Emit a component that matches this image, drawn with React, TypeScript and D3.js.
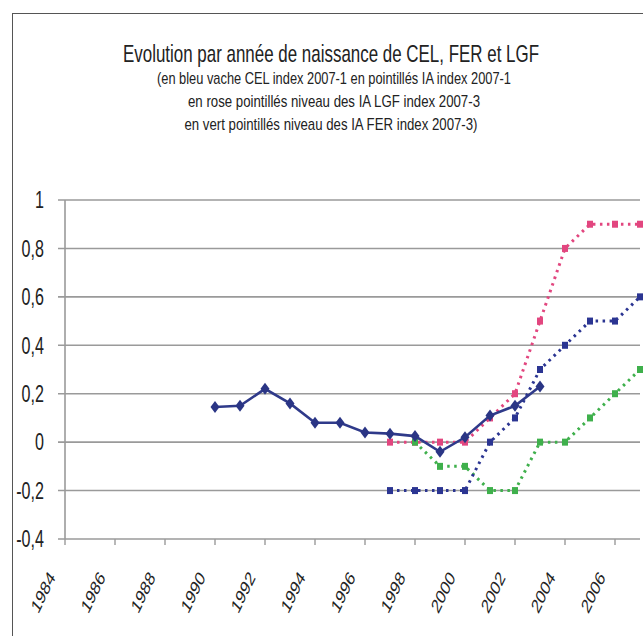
import React from "react";
import * as d3 from "d3";

const tickYears = [1984, 1986, 1988, 1990, 1992, 1994, 1996, 1998, 2000, 2002, 2004, 2006];
const yTicks = [1, 0.8, 0.6, 0.4, 0.2, 0, -0.2, -0.4];

const celYears = [1990, 1991, 1992, 1993, 1994, 1995, 1996, 1997, 1998, 1999, 2000, 2001, 2002, 2003];
const celValues = [0.145, 0.15, 0.22, 0.16, 0.08, 0.08, 0.04, 0.035, 0.025, -0.04, 0.02, 0.11, 0.15, 0.23];

const iaYears = [1997, 1998, 1999, 2000, 2001, 2002, 2003, 2004, 2005, 2006, 2007];
const iaValues = [-0.2, -0.2, -0.2, -0.2, 0, 0.1, 0.3, 0.4, 0.5, 0.5, 0.6];

const lgfYears = [1997, 1998, 1999, 2000, 2001, 2002, 2003, 2004, 2005, 2006, 2007];
const lgfValues = [0, 0, 0, 0, 0.1, 0.2, 0.5, 0.8, 0.9, 0.9, 0.9];

const ferYears = [1998, 1999, 2000, 2001, 2002, 2003, 2004, 2005, 2006, 2007];
const ferValues = [0, -0.1, -0.1, -0.2, -0.2, 0, 0, 0.1, 0.2, 0.3];

const title = "Evolution par année de naissance de CEL, FER et LGF";
const subtitles = [
  "(en bleu vache CEL index 2007-1 en pointillés IA index 2007-1",
  "en rose pointillés niveau des IA LGF index 2007-3",
  "en vert pointillés niveau des IA FER index 2007-3)",
];

const SX = 0.7;
const FONT = "'Liberation Sans', Arial, sans-serif";

const App = () => {
  const width = 643;
  const height = 636;

  const x = d3.scaleLinear().domain([1984, 2007]).range([65, 640]);
  const y = d3.scaleLinear().domain([-0.4, 1]).range([539, 200]);

  const line = d3
    .line<[number, number]>()
    .x((d) => x(d[0]))
    .y((d) => y(d[1]));

  const zip = (a: number[], b: number[]) => a.map((v, i) => [v, b[i]] as [number, number]);

  // drawn in this order, CEL solid on top
  const dotted = [
    { data: zip(lgfYears, lgfValues), color: "#e2467f" },
    { data: zip(ferYears, ferValues), color: "#3fb04c" },
    { data: zip(iaYears, iaValues), color: "#2b3592" },
  ];
  const cel = zip(celYears, celValues);

  const subX = [334, 334, 331];
  const subW = [354, 292, 293];
  const subY = [84, 107, 130];

  return (
    <svg
      width={width}
      height={height}
      style={{ position: "absolute", left: 0, top: 0, background: "#fff" }}
      fontFamily={FONT}
    >
      <rect x={12.5} y={13.5} width={700} height={700} fill="#fff" stroke="#555" strokeWidth={1} />

      <text
        transform={`translate(331,62) scale(${SX},1)`}
        textAnchor="middle"
        fontSize={24}
        fill="#222"
        textLength={416 / SX}
        lengthAdjust="spacingAndGlyphs"
      >
        {title}
      </text>
      {subtitles.map((s, i) => (
        <text
          key={i}
          x={subX[i]}
          y={subY[i]}
          textAnchor="middle"
          fontSize={17}
          fill="#222"
          textLength={subW[i]}
          lengthAdjust="spacingAndGlyphs"
        >
          {s}
        </text>
      ))}

      {yTicks.map((t) => (
        <g key={t}>
          <line x1={58} x2={640} y1={y(t)} y2={y(t)} stroke="#9a9a9a" strokeWidth={1.6} />
          <text
            transform={`translate(44,${y(t)}) scale(${SX},1)`}
            dy="0.36em"
            textAnchor="end"
            fontSize={23}
            fill="#222"
          >
            {String(t).replace(".", ",")}
          </text>
        </g>
      ))}
      <line x1={65} x2={65} y1={y(1)} y2={y(-0.4)} stroke="#9a9a9a" strokeWidth={1.6} />

      {tickYears.map((yr) => (
        <g key={yr}>
          <line x1={x(yr)} x2={x(yr)} y1={y(-0.4)} y2={y(-0.4) + 6} stroke="#9a9a9a" strokeWidth={1.4} />
          <text
            transform={`translate(${x(yr) - 9},578) scale(${SX},1) rotate(-55)`}
            textAnchor="end"
            fontSize={20}
            fill="#222"
          >
            {yr}
          </text>
        </g>
      ))}

      {dotted.map((s, i) => (
        <g key={i}>
          <path d={line(s.data) || ""} fill="none" stroke={s.color} strokeWidth={3} strokeDasharray="2.5 4.5" />
          {s.data.map((d, j) => (
            <rect key={j} x={x(d[0]) - 3} y={y(d[1]) - 3.5} width={6} height={7} fill={s.color} />
          ))}
        </g>
      ))}

      <path d={line(cel) || ""} fill="none" stroke="#2f3a8a" strokeWidth={2.6} />
      {cel.map((d, j) => (
        <path
          key={j}
          d={`M${x(d[0])},${y(d[1]) - 6}L${x(d[0]) + 4.5},${y(d[1])}L${x(d[0])},${y(d[1]) + 6}L${x(d[0]) - 4.5},${y(d[1])}Z`}
          fill="#2a3585"
        />
      ))}
    </svg>
  );
};

export default App;
